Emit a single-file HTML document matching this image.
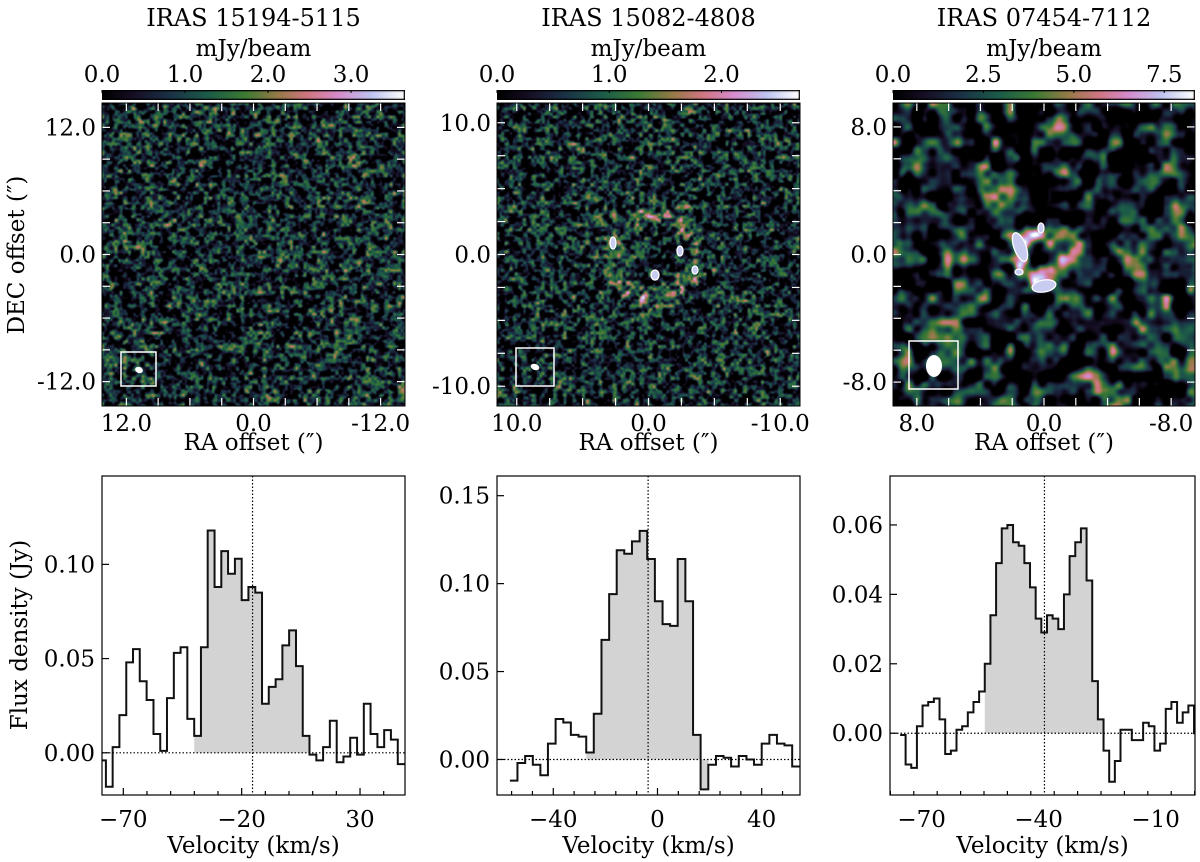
<!DOCTYPE html>
<html><head><meta charset="utf-8">
<style>
html,body{margin:0;padding:0;background:#fff;}
#root{position:relative;width:1200px;height:862px;overflow:hidden;font-family:"DejaVu Serif","Liberation Serif",serif;}
canvas{position:absolute;}
svg{position:absolute;left:0;top:0;}
</style></head>
<body>
<div id="root">
<canvas id="map1" style="left:102px;top:103px" width="303" height="303"></canvas>
<canvas id="map2" style="left:497px;top:103px" width="303" height="303"></canvas>
<canvas id="map3" style="left:893px;top:103px" width="302" height="303"></canvas>
<canvas id="cb1" style="left:102px;top:90px" width="303" height="10"></canvas>
<canvas id="cb2" style="left:497px;top:90px" width="303" height="10"></canvas>
<canvas id="cb3" style="left:893px;top:90px" width="302" height="10"></canvas>
<svg id="svg" width="1200" height="862" xmlns="http://www.w3.org/2000/svg" font-family="DejaVu Serif, Liberation Serif, serif"></svg>
</div>
<script>
// ---------- spectrum data ----------
const vel1 = [-78.8,-75.9,-73.1,-70.2,-67.3,-64.5,-61.6,-58.7,-55.8,-53.0,-50.1,-47.2,-44.4,-41.5,-38.6,-35.8,-32.9,-30.0,-27.2,-24.3,-21.4,-18.6,-15.7,-12.8,-10.0,-7.1,-4.2,-1.4,1.5,4.4,7.2,10.1,13.0,15.8,18.7,21.6,24.4,27.3,30.2,33.0,35.9,38.8,41.6,44.5,47.4];
const flux1 = [-0.004,-0.018,0.003,0.020,0.048,0.055,0.038,0.028,0.010,0.001,0.029,0.053,0.056,0.018,0.009,0.056,0.118,0.088,0.107,0.095,0.103,0.081,0.088,0.085,0.026,0.035,0.039,0.057,0.065,0.046,0.009,-0.001,-0.004,0.003,0.017,-0.005,-0.002,0.008,-0.001,0.026,0.010,0.003,0.012,0.007,-0.006];
const vel2 = [-55.2,-52.3,-49.3,-46.4,-43.5,-40.6,-37.6,-34.7,-31.8,-28.8,-25.9,-23.0,-20.0,-17.1,-14.2,-11.3,-8.3,-5.4,-2.5,0.5,3.4,6.3,9.2,12.2,15.1,18.0,21.0,23.9,26.8,29.7,32.7,35.6,38.5,41.5,44.4,47.3,50.2,53.2];
const flux2 = [-0.012,-0.002,0.002,-0.003,-0.009,0.009,0.023,0.021,0.014,0.013,0.004,0.026,0.068,0.094,0.119,0.117,0.124,0.130,0.114,0.090,0.077,0.076,0.114,0.090,0.014,-0.017,-0.003,0.002,0.001,-0.004,0.002,0.000,-0.003,0.009,0.014,0.009,0.008,-0.004];
const vel3 = [-74.8,-73.4,-71.9,-70.5,-69.0,-67.6,-66.1,-64.7,-63.2,-61.8,-60.3,-58.9,-57.4,-56.0,-54.5,-53.1,-51.6,-50.2,-48.7,-47.3,-45.8,-44.4,-42.9,-41.5,-40.0,-38.6,-37.1,-35.7,-34.2,-32.8,-31.3,-29.9,-28.4,-27.0,-25.5,-24.1,-22.6,-21.2,-19.7,-18.3,-16.8,-15.4,-13.9,-12.5,-11.0,-9.6,-8.1,-6.7,-5.2,-3.8,-2.3,-0.9,0.6];
const flux3 = [-0.0005,-0.009,-0.010,0.002,0.008,0.009,0.010,0.004,-0.006,-0.005,0.001,0.002,0.006,0.009,0.012,0.020,0.034,0.049,0.059,0.060,0.055,0.054,0.049,0.042,0.033,0.029,0.034,0.033,0.030,0.040,0.051,0.055,0.059,0.044,0.015,0.004,-0.005,-0.014,-0.008,0.001,0.001,-0.002,-0.002,0.003,0.002,-0.005,-0.003,0.007,0.009,0.003,0.006,0.008,0.000];
const vsys = [-15.4, -3.6, -38.5];
const yTicks1 = [0.00,0.05,0.10], yTickLabels1 = ["0.00","0.05","0.10"];
const yTicks2 = [0.00,0.05,0.10,0.15], yTickLabels2 = ["0.00","0.05","0.10","0.15"];
const yTicks3 = [0.00,0.02,0.04,0.06], yTickLabels3 = ["0.00","0.02","0.04","0.06"];
const xTicks1 = [-70,-20,30], xTicks2 = [-40,0,40], xTicks3 = [-70,-40,-10];
const titles = ["IRAS 15194-5115","IRAS 15082-4808","IRAS 07454-7112"];
const cbTicks1 = [0,1,2,3], cbTicks2 = [0,1,2], cbTicks3 = [0,2.5,5,7.5];

const FS = 23;
const NS = "http://www.w3.org/2000/svg";
const svg = document.getElementById('svg');
function mk(tag, attrs, parent){
  const e = document.createElementNS(NS, tag);
  for (const k in attrs) e.setAttribute(k, attrs[k]);
  (parent||svg).appendChild(e);
  return e;
}
function txt(s, x, y, size, anchor, parent, rot){
  const t = mk('text', {x:x, y:y, 'font-size':size, 'text-anchor':anchor||'middle', fill:'#000'}, parent);
  if (rot) t.setAttribute('transform', 'rotate(-90 '+x+' '+y+')');
  t.textContent = s;
  return t;
}

// ---------- spectra ----------
function spectrum(idx, vel, flux, sh0, sh1, box, xr, yr, xt, xminor, yt, ytl){
  const g = mk('g', {});
  
  
  const X = v => box.x + (v - xr[0])/(xr[1]-xr[0])*box.w;
  const Y = f => box.y + box.h - (f - yr[0])/(yr[1]-yr[0])*box.h;
  const clip = mk('clipPath', {id:'clip'+idx}, g);
  mk('rect', {x:box.x, y:box.y, width:box.w, height:box.h}, clip);
  const inner = mk('g', {'clip-path':'url(#clip'+idx+')'}, g);
  const n = vel.length;
  const edgeL = i => i===0 ? vel[0] - (vel[1]-vel[0])/2 : (vel[i-1]+vel[i])/2;
  const edgeR = i => i===n-1 ? vel[n-1] + (vel[n-1]-vel[n-2])/2 : (vel[i]+vel[i+1])/2;
  for (let i = sh0; i <= sh1; i++){
    const y0 = Y(0), y1 = Y(flux[i]);
    const r = mk('rect', {x:X(edgeL(i)), y:Math.min(y0,y1), width:X(edgeR(i))-X(edgeL(i))+0.3, height:Math.abs(y1-y0), fill:'#d3d3d3'}, inner);
    
    
  }
  let d = '';
  for (let i = 0; i < n; i++){
    const xl = X(edgeL(i)), xr2 = X(edgeR(i)), y = Y(flux[i]);
    d += (i===0 ? 'M'+xl+','+y : 'L'+xl+','+y) + 'L'+xr2+','+y;
  }
  const p = mk('path', {d:d, fill:'none', stroke:'#111', 'stroke-width':2}, inner);
  
  
  mk('line', {x1:box.x, x2:box.x+box.w, y1:Y(0), y2:Y(0), stroke:'#000', 'stroke-width':1.2, 'stroke-dasharray':'1.5,2'}, inner);
  mk('line', {x1:X(vsys[idx]), x2:X(vsys[idx]), y1:box.y, y2:box.y+box.h, stroke:'#000', 'stroke-width':1.2, 'stroke-dasharray':'1.5,2'}, inner);
  mk('rect', {x:box.x, y:box.y, width:box.w, height:box.h, fill:'none', stroke:'#000', 'stroke-width':1.2}, g);
  const xs = Math.ceil(xr[0]/xminor)*xminor;
  for (let k = 0; k < 100; k++){
    const v = xs + k*xminor;
    if (v > xr[1]) break;
    const major = xt.some(t => Math.abs(t-v) < 1e-6);
    mk('line', {x1:X(v), x2:X(v), y1:box.y+box.h, y2:box.y+box.h-(major?7:4), stroke:'#000', 'stroke-width':1.2}, g);
  }
  xt.forEach(v => txt(String(v).replace('-','\u2212'), X(v), box.y+box.h+32, FS, 'middle', g));
  yt.forEach((v,i) => {
    mk('line', {x1:box.x, x2:box.x+7, y1:Y(v), y2:Y(v), stroke:'#000', 'stroke-width':1.2}, g);
    txt(ytl[i], box.x-7, Y(v)+8, FS, 'end', g);
  });
  const xl = txt('Velocity (km/s)', box.x+box.w/2, 853, FS, 'middle', g);
  
}
spectrum(0, vel1, flux1, 14, 30, {x:102,y:476,w:303,h:319}, [-79,49], [-0.0224,0.1469], xTicks1, 10, yTicks1, yTickLabels1);
spectrum(1, vel2, flux2, 10, 25, {x:497,y:476,w:303,h:319}, [-61.6,54.7], [-0.0202,0.1612], xTicks2, 8, yTicks2, yTickLabels2);
spectrum(2, vel3, flux3, 15, 35, {x:890,y:476,w:305,h:319}, [-78.1,0.1], [-0.0178,0.0741], xTicks3, 6, yTicks3, yTickLabels3);
const fy = txt('Flux density (Jy)', 27, 635, FS, 'middle', svg, true);


const dy = txt('DEC offset (\u2033)', 24, 255, FS, 'middle', svg, true);



// ---------- colormap ----------
const stops = [[0,[0,0,0]],[0.1,[22,14,36]],[0.22,[26,48,70]],[0.35,[28,92,72]],[0.47,[60,122,52]],[0.58,[150,122,72]],[0.68,[208,118,130]],[0.78,[214,140,204]],[0.89,[190,196,240]],[1,[255,255,255]]];
function cmap(t){
  t = Math.max(0, Math.min(1, t));
  for (let i = 1; i < stops.length; i++){
    if (t <= stops[i][0]){
      const a = stops[i-1], b = stops[i], f = (t-a[0])/(b[0]-a[0]);
      return [0,1,2].map(k => a[1][k] + (b[1][k]-a[1][k])*f);
    }
  }
  return [255,255,255];
}
function colorbar(id){
  const c = document.getElementById(id), ctx = c.getContext('2d');
  for (let x = 0; x < c.width; x++){
    const col = cmap(x/(c.width-1));
    ctx.fillStyle = 'rgb('+col.map(Math.round).join(',')+')';
    ctx.fillRect(x,0,1,c.height);
  }
  ctx.strokeStyle = '#000'; ctx.lineWidth = 1.5; ctx.strokeRect(0.5,0.5,c.width-1,c.height-1);
}
['cb1','cb2','cb3'].forEach(colorbar);

// ---------- maps (texture) ----------
function rng(seed){ let s = seed>>>0; return () => { s = (s*1664525 + 1013904223)>>>0; return s/4294967296; }; }
function noiseField(w, h, cell, seed){
  const r = rng(seed);
  const gw = Math.ceil(w/cell)+3, gh = Math.ceil(h/cell)+3;
  const g = new Float32Array(gw*gh);
  for (let i = 0; i < gw*gh; i++) g[i] = r()*2-1;
  const out = new Float32Array(w*h);
  for (let y = 0; y < h; y++) for (let x = 0; x < w; x++){
    const fx = x/cell, fy = y/cell, ix = Math.floor(fx), iy = Math.floor(fy);
    let tx = fx-ix, ty = fy-iy; tx = tx*tx*(3-2*tx); ty = ty*ty*(3-2*ty);
    const a = g[iy*gw+ix], b = g[iy*gw+ix+1], c = g[(iy+1)*gw+ix], d = g[(iy+1)*gw+ix+1];
    out[y*w+x] = (a*(1-tx)+b*tx)*(1-ty) + (c*(1-tx)+d*tx)*ty;
  }
  return out;
}
function drawMap(id, cell, seed, ring, base, gain){
  const c = document.getElementById(id), ctx = c.getContext('2d');
  const w = c.width, h = c.height;
  const n1 = noiseField(w, h, cell, seed), n2 = noiseField(w, h, cell*0.6, seed+77);
  const img = ctx.createImageData(w, h);
  for (let y = 0; y < h; y++) for (let x = 0; x < w; x++){
    let v = base + gain*(0.7*n1[y*w+x] + 0.45*n2[y*w+x]);
    if (ring){
      const dx = x-ring.cx, dy = y-ring.cy, rr = Math.sqrt(dx*dx+dy*dy);
      v += ring.amp*Math.exp(-Math.pow((rr-ring.r)/ring.wd, 2));
    }
    const col = cmap(v);
    const k = (y*w+x)*4;
    img.data[k] = col[0]; img.data[k+1] = col[1]; img.data[k+2] = col[2]; img.data[k+3] = 255;
  }
  ctx.putImageData(img, 0, 0);
}
drawMap('map1', 4.5, 11, null, 0.17, 0.5);
drawMap('map2', 4.5, 23, {cx:155, cy:153, r:42, wd:10, amp:0.25}, 0.16, 0.5);
drawMap('map3', 13, 5, {cx:146, cy:152, r:22, wd:9, amp:0.55}, 0.14, 0.6);

// ---------- map axes ----------
function mapAxes(i, x0, w, xr, ticks, cbt, cbmax){
  const g = mk('g', {});
  
  
  const y0 = 103, h = 303;
  const X = v => x0 + (xr - v)/(2*xr)*w;
  const Y = v => y0 + (xr - v)/(2*xr)*h;
  const step = Math.abs(ticks[0])/4;
  if (step > 0){
    const kmax = Math.floor(xr/step);
    for (let k = -kmax; k <= kmax; k++){
      const vv = k*step;
      mk('line', {x1:X(vv), x2:X(vv), y1:y0+h, y2:y0+h-8, stroke:'#fff', 'stroke-width':1.2}, g);
      mk('line', {x1:X(vv), x2:X(vv), y1:y0, y2:y0+8, stroke:'#fff', 'stroke-width':1.2}, g);
      mk('line', {x1:x0, x2:x0+8, y1:Y(vv), y2:Y(vv), stroke:'#fff', 'stroke-width':1.2}, g);
      mk('line', {x1:x0+w, x2:x0+w-8, y1:Y(vv), y2:Y(vv), stroke:'#fff', 'stroke-width':1.2}, g);
    }
  }
  ticks.forEach(v => {
    const s = v.toFixed(1);
    txt(s, X(v), 431, FS, 'middle', g);
    txt(s, x0-6, Y(v)+8, FS, 'end', g);
  });
  mk('rect', {x:x0, y:y0, width:w, height:h, fill:'none', stroke:'#000', 'stroke-width':1}, g);
  const xt = txt('RA offset (\u2033)', x0+w/2, 450, FS, 'middle', g);
  
  const t = txt(titles[i], x0+w/2, 26, 24, 'middle', g);
  
  txt('mJy/beam', x0+w/2, 56, FS, 'middle', g);
  cbt.forEach(v => {
    const cx = x0 + v/cbmax*w;
    mk('line', {x1:cx, x2:cx, y1:90, y2:93, stroke:'#000', 'stroke-width':1}, g);
    txt(v.toFixed(1), cx, 82, FS, 'middle', g);
  });
}
mapAxes(0, 102, 303, 14.3, [12,0,-12], cbTicks1, 3.65);
mapAxes(1, 497, 303, 11.5, [10,0,-10], cbTicks2, 2.7);
mapAxes(2, 893, 302, 9.5, [8,0,-8], cbTicks3, 8.35);

// beams
[[121,352,35,34,139,370,4,3],[516,348,38,38,535,367,4.5,3],[909,341,49,48,934,366,8,11]].forEach((b,i) => {
  const r = mk('rect', {x:b[0], y:b[1], width:b[2], height:b[3], fill:'none', stroke:'#fff', 'stroke-width':1.5});
  
  
  const e = mk('ellipse', {cx:b[4], cy:b[5], rx:b[6], ry:b[7], fill:'#fff'});
  if (i < 2) e.setAttribute('transform', 'rotate(20 '+b[4]+' '+b[5]+')');
  
  
});
// contours (approx)
[[1020,247,6,15,-20],[1041,228,3,5,0],[1019,272,4,3,0],[1044,286,12,6,-10],[613,243,3,6,0],[655,275,4,5,0],[695,270,3,4,0],[680,251,3,5,0]].forEach(c => {
  const e = mk('ellipse', {cx:c[0], cy:c[1], rx:c[2], ry:c[3], fill:'#c8ccf0', stroke:'#fff', 'stroke-width':1.3, transform:'rotate('+c[4]+' '+c[0]+' '+c[1]+')'});
  
  
});
</script>
</body></html>
